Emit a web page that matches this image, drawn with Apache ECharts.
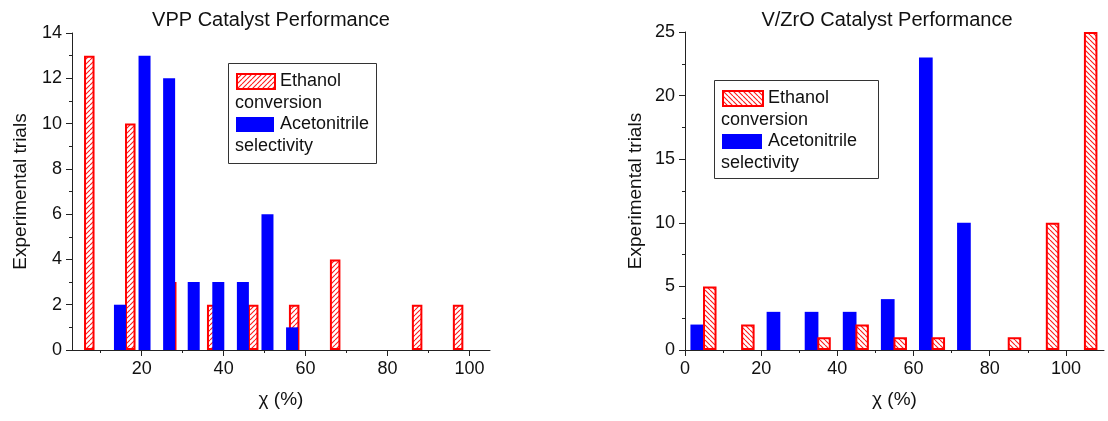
<!DOCTYPE html>
<html>
<head>
<meta charset="utf-8">
<script src="https://cdn.jsdelivr.net/npm/echarts@6/dist/echarts.min.js"></script>
<style>
html,body{margin:0;padding:0;background:#fff;}
#main{width:1108px;height:421px;}
</style>
</head>
<body>
<div id="main"></div>
<script>
// ---- data ----
const titles = ['VPP Catalyst Performance', 'V/ZrO Catalyst Performance'];
const seriesNames = ['Ethanol conversion', 'Acetonitrile selectivity'];
// VPP
const vppEthX = [7.4, 17.4, 27.4, 37.4, 47.4, 57.4, 67.4, 77.4, 87.4, 97.4];
const vppEth  = [13, 10, 3, 2, 2, 2, 4, 0, 2, 2];
const vppAceX = [14.7, 20.7, 26.7, 32.7, 38.7, 44.7, 50.7, 56.7];
const vppAce  = [2, 13, 12, 3, 3, 3, 6, 1];
// V/ZrO
const vzEthX = [6.5, 16.5, 26.5, 36.5, 46.5, 56.5, 66.5, 76.5, 86.5, 96.5, 106.5];
const vzEth  = [5, 2, 0, 1, 2, 1, 1, 0, 1, 10, 25];
const vzAceX = [3.2, 13.2, 23.2, 33.2, 43.2, 53.2, 63.2, 73.2];
const vzAce  = [2, 0, 3, 3, 3, 4, 23, 10];
// ticks
const vppXMajor = [20, 40, 60, 80, 100];
const vppXMinor = [10, 30, 50, 70, 90];
const vppYMajor = [0, 2, 4, 6, 8, 10, 12, 14];
const vppYMinor = [1, 3, 5, 7, 9, 11, 13];
const vzXMajor = [0, 20, 40, 60, 80, 100];
const vzXMinor = [10, 30, 50, 70, 90];
const vzYMajor = [0, 5, 10, 15, 20, 25];
const vzYMinor = [2.5, 7.5, 12.5, 17.5, 22.5];

// ---- helpers ----
function hatch(dir) {
  const s = 5;
  const c = document.createElement('canvas');
  c.width = s; c.height = s;
  const g = c.getContext('2d');
  g.fillStyle = '#ffffff';
  g.fillRect(0, 0, s, s);
  g.strokeStyle = '#ff1a1a';
  g.lineWidth = 1.1;
  g.beginPath();
  for (let k = -1; k <= 1; k++) {
    if (dir > 0) { g.moveTo(k * s, s); g.lineTo(k * s + s, 0); }
    else { g.moveTo(k * s, 0); g.lineTo(k * s + s, s); }
  }
  g.stroke();
  return c;
}
const patUp = { image: hatch(1), repeat: 'repeat' };
const patDown = { image: hatch(-1), repeat: 'repeat' };
function pairs(xs, ys) {
  const out = [];
  xs.forEach((x, i) => { if (ys[i] > 0) out.push([x, ys[i]]); });
  return out;
}

const FONT = 'Liberation Sans, Arial, sans-serif';
const AX = '#222';
const labelStyle = { color: '#111', fontSize: 18, fontFamily: FONT };
const nameStyle = { color: '#111', fontSize: 19, fontFamily: FONT };

function mainX(grid, min, max, major) {
  return {
    type: 'value', gridIndex: grid, min: min, max: max, position: 'bottom',
    splitLine: { show: false },
    axisLine: { lineStyle: { color: AX, width: 1 } },
    axisTick: { show: true, length: 6, customValues: major, lineStyle: { color: AX } },
    axisLabel: Object.assign({ customValues: major, margin: 10 }, labelStyle),
    name: 'χ (%)', nameLocation: 'middle', nameGap: 40,
    nameTextStyle: nameStyle
  };
}
function minorX(grid, min, max, minor) {
  return {
    type: 'value', gridIndex: grid, min: min, max: max, position: 'bottom',
    splitLine: { show: false }, axisLine: { show: false },
    axisTick: { show: true, length: 3, customValues: minor, lineStyle: { color: AX } },
    axisLabel: { show: false }
  };
}
function mainY(grid, min, max, major, gap) {
  return {
    type: 'value', gridIndex: grid, min: min, max: max, position: 'left',
    splitLine: { show: false },
    axisLine: { show: true, lineStyle: { color: AX, width: 1 } },
    axisTick: { show: true, length: 6, customValues: major, lineStyle: { color: AX } },
    axisLabel: Object.assign({ customValues: major, margin: 10 }, labelStyle),
    name: 'Experimental trials', nameLocation: 'middle', nameGap: gap, nameRotate: 90,
    nameTextStyle: nameStyle
  };
}
function minorY(grid, min, max, minor) {
  return {
    type: 'value', gridIndex: grid, min: min, max: max, position: 'left',
    splitLine: { show: false }, axisLine: { show: false },
    axisTick: { show: true, length: 3, customValues: minor, lineStyle: { color: AX } },
    axisLabel: { show: false }
  };
}

function legend(x, y, w, h, pat, swW) {
  const txt = { fill: '#111', fontSize: 18, fontFamily: FONT, textVerticalAlign: 'middle' };
  return [
    { type: 'rect', left: x, top: y, shape: { width: w, height: h }, style: { fill: '#fff', stroke: '#333', lineWidth: 1 }, z: 10 },
    { type: 'rect', left: x + 8, top: y + 10, shape: { width: swW, height: 15 }, style: { fill: pat, stroke: '#ff0000', lineWidth: 2 }, z: 11 },
    { type: 'text', left: x + 8 + swW + 6, top: y + 9, style: Object.assign({ text: 'Ethanol' }, txt), z: 11 },
    { type: 'text', left: x + 7, top: y + 31, style: Object.assign({ text: 'conversion' }, txt), z: 11 },
    { type: 'rect', left: x + 8, top: y + 54, shape: { width: swW, height: 15 }, style: { fill: '#0000ff' }, z: 11 },
    { type: 'text', left: x + 8 + swW + 6, top: y + 52, style: Object.assign({ text: 'Acetonitrile' }, txt), z: 11 },
    { type: 'text', left: x + 7, top: y + 74, style: Object.assign({ text: 'selectivity' }, txt), z: 11 }
  ];
}

const chart = echarts.init(document.getElementById('main'), null, { renderer: 'canvas' });
chart.setOption({
  animation: false,
  backgroundColor: '#fff',
  title: [
    { text: titles[0], left: 266, top: 5, textAlign: 'center', textStyle: { fontSize: 20, fontWeight: 'normal', color: '#111', fontFamily: FONT } },
    { text: titles[1], left: 882, top: 5, textAlign: 'center', textStyle: { fontSize: 20, fontWeight: 'normal', color: '#111', fontFamily: FONT } }
  ],
  grid: [
    { left: 72, top: 33, width: 418, height: 317 },
    { left: 685, top: 32, width: 419, height: 318 }
  ],
  xAxis: [
    mainX(0, 3, 105, vppXMajor), minorX(0, 3, 105, vppXMinor),
    mainX(1, 0, 110, vzXMajor), minorX(1, 0, 110, vzXMinor)
  ],
  yAxis: [
    mainY(0, 0, 14, vppYMajor, 42), minorY(0, 0, 14, vppYMinor),
    mainY(1, 0, 25, vzYMajor, 40), minorY(1, 0, 25, vzYMinor)
  ],
  series: [
    { name: seriesNames[0], type: 'bar', xAxisIndex: 0, yAxisIndex: 0, barWidth: 10.5, barGap: '-100%',
      itemStyle: { color: patUp, borderColor: '#ff0000', borderWidth: 2 }, data: pairs(vppEthX, vppEth) },
    { name: seriesNames[1], type: 'bar', xAxisIndex: 0, yAxisIndex: 0, barWidth: 12, barGap: '-100%',
      itemStyle: { color: '#0000ff' }, data: pairs(vppAceX, vppAce) },
    { name: seriesNames[1], type: 'bar', xAxisIndex: 2, yAxisIndex: 2, barWidth: 13.7, barGap: '-100%',
      itemStyle: { color: '#0000ff' }, data: pairs(vzAceX, vzAce) },
    { name: seriesNames[0], type: 'bar', xAxisIndex: 2, yAxisIndex: 2, barWidth: 13.5, barGap: '-100%',
      itemStyle: { color: patDown, borderColor: '#ff0000', borderWidth: 2 }, data: pairs(vzEthX, vzEth) }
  ],
  graphic: legend(228, 63, 148, 100, patUp, 38).concat(legend(714, 80, 164, 98, patDown, 40))
});
</script>
</body>
</html>
